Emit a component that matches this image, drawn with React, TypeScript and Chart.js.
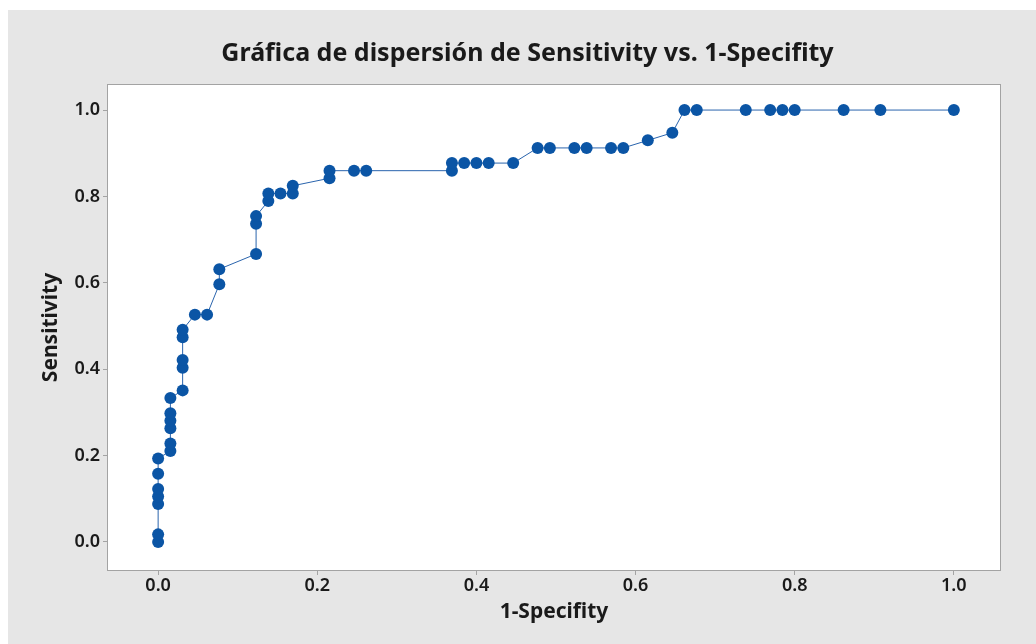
import React, { useEffect, useRef } from 'react';
import { Chart, registerables } from 'chart.js';

Chart.register(...registerables);

const chartTitle = 'Gráfica de dispersión de Sensitivity vs. 1-Specifity';
const xTitle = '1-Specifity';
const yTitle = 'Sensitivity';

const oneMinusSpecificity = [
  0, 0, 0, 0, 0, 0, 0,
  0.0154, 0.0154, 0.0154, 0.0154, 0.0154, 0.0154,
  0.0308, 0.0308, 0.0308, 0.0308, 0.0308,
  0.0462, 0.0615, 0.0769, 0.0769,
  0.1231, 0.1231, 0.1231, 0.1385, 0.1385, 0.1538, 0.1692, 0.1692,
  0.2154, 0.2154, 0.2462, 0.2615, 0.3692, 0.3692, 0.3846, 0.4, 0.4154, 0.4462,
  0.4769, 0.4923, 0.5231, 0.5385, 0.5692, 0.5846, 0.6154, 0.6462,
  0.6615, 0.6769, 0.7385, 0.7692, 0.7846, 0.8, 0.8615, 0.9077, 1,
];

const sensitivity = [
  0, 0.0175, 0.0877, 0.1053, 0.1228, 0.1579, 0.193,
  0.2105, 0.2281, 0.2632, 0.2807, 0.2982, 0.3333,
  0.3509, 0.4035, 0.4211, 0.4737, 0.4912,
  0.5263, 0.5263, 0.5965, 0.6316,
  0.6667, 0.7368, 0.7544, 0.7895, 0.807, 0.807, 0.807, 0.8246,
  0.8421, 0.8596, 0.8596, 0.8596, 0.8596, 0.8772, 0.8772, 0.8772, 0.8772, 0.8772,
  0.9123, 0.9123, 0.9123, 0.9123, 0.9123, 0.9123, 0.9298, 0.9474,
  1, 1, 1, 1, 1, 1, 1, 1, 1,
];

const xTickValues = [0, 0.2, 0.4, 0.6, 0.8, 1.0];
const yTickValues = [0, 0.2, 0.4, 0.6, 0.8, 1.0];

const FONT = '"Noto Sans", "Open Sans", "DejaVu Sans", sans-serif';

const plotBackground = {
  id: 'plotBackground',
  beforeDraw(chart: any) {
    const { ctx, chartArea: a, width, height } = chart;
    ctx.save();
    ctx.fillStyle = '#e6e6e6';
    ctx.fillRect(0, 0, width, height);
    ctx.fillStyle = '#ffffff';
    ctx.fillRect(a.left, a.top, a.right - a.left, a.bottom - a.top);
    ctx.strokeStyle = '#a3a3a3';
    ctx.lineWidth = 1;
    ctx.strokeRect(a.left - 0.5, a.top - 0.5, a.right - a.left + 1, a.bottom - a.top + 1);
    ctx.restore();
  },
};

const headerTitle = {
  id: 'headerTitle',
  afterDraw(chart: any) {
    const { ctx } = chart;
    ctx.save();
    ctx.fillStyle = '#1a1a1a';
    ctx.font = `bold 25px ${FONT}`;
    ctx.textAlign = 'center';
    ctx.textBaseline = 'middle';
    ctx.fillText(chartTitle, 519.5, 44);
    ctx.restore();
  },
};

export default function App() {
  const canvasRef = useRef<HTMLCanvasElement | null>(null);

  useEffect(() => {
    document.body.style.margin = '0';
    const canvas = canvasRef.current;
    if (!canvas) return;
    const points = oneMinusSpecificity.map((x, i) => ({ x, y: sensitivity[i] }));
    const chart = new Chart(canvas, {
      type: 'scatter',
      data: {
        datasets: [
          {
            label: chartTitle,
            data: points,
            showLine: true,
            borderColor: '#2a64ad',
            borderWidth: 1,
            backgroundColor: '#0b55a5',
            pointBackgroundColor: '#0b55a5',
            pointBorderColor: '#0b55a5',
            pointBorderWidth: 0,
            pointRadius: 6,
            pointHoverRadius: 6,
          },
        ],
      },
      options: {
        responsive: false,
        animation: false,
        events: [],
        layout: { padding: { top: 75, left: 0, right: 36, bottom: 0 } },
        plugins: {
          legend: { display: false },
          tooltip: { enabled: false },
          title: { display: false },
        },
        scales: {
          x: {
            type: 'linear',
            min: -0.063,
            max: 1.058,
            afterFit(scale: any) {
              scale.height = 74;
            },
            afterBuildTicks(scale: any) {
              scale.ticks = xTickValues.map((v) => ({ value: v }));
            },
            ticks: {
              color: '#1a1a1a',
              font: { family: FONT, size: 18, weight: '600' },
              padding: 0,
              maxRotation: 0,
              callback: (v: any) => Number(v).toFixed(1),
            },
            grid: {
              display: true,
              drawOnChartArea: false,
              drawTicks: true,
              tickLength: 5,
              color: '#a3a3a3',
            },
            border: { display: false },
            title: {
              display: true,
              text: xTitle,
              color: '#1a1a1a',
              font: { family: FONT, size: 21, weight: 'bold' },
              padding: { top: 0, bottom: 19 },
            },
          },
          y: {
            type: 'linear',
            min: -0.065,
            max: 1.058,
            afterFit(scale: any) {
              scale.width = 100;
            },
            afterBuildTicks(scale: any) {
              scale.ticks = yTickValues.map((v) => ({ value: v }));
            },
            ticks: {
              color: '#1a1a1a',
              font: { family: FONT, size: 18, weight: '600' },
              padding: 3,
              callback: (v: any) => Number(v).toFixed(1),
            },
            grid: {
              display: true,
              drawOnChartArea: false,
              drawTicks: true,
              tickLength: 5,
              color: '#a3a3a3',
            },
            border: { display: false },
            title: {
              display: true,
              text: yTitle,
              color: '#1a1a1a',
              font: { family: FONT, size: 21, weight: 'bold' },
              padding: { top: 30, bottom: 0 },
            },
          },
        },
      },
      plugins: [plotBackground, headerTitle],
    });
    return () => chart.destroy();
  }, []);

  return (
    <div style={{ position: 'absolute', left: 8, top: 10, width: 1028, height: 634 }}>
      <canvas ref={canvasRef} width={1028} height={634} style={{ display: 'block' }} />
    </div>
  );
}
